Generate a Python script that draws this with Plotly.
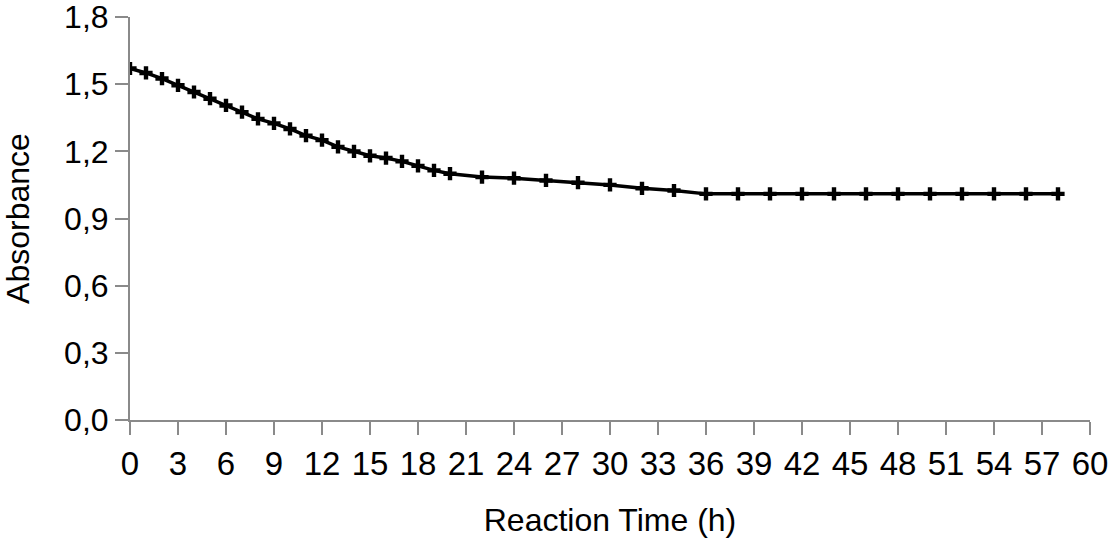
import plotly.graph_objects as go

# reaction time (h) and absorbance
time_h = list(range(0, 21)) + list(range(22, 60, 2))
absorbance = [
    1.57, 1.55, 1.525, 1.495, 1.465, 1.435, 1.405, 1.375, 1.345, 1.325,
    1.30, 1.27, 1.25, 1.22, 1.20, 1.18, 1.17, 1.155, 1.135, 1.115, 1.10,
    1.085, 1.08, 1.07, 1.06, 1.05, 1.035, 1.025,
    1.01, 1.01, 1.01, 1.01, 1.01, 1.01, 1.01, 1.01, 1.01, 1.01, 1.01, 1.01,
]
x_ticks = list(range(0, 61, 3))
y_ticks = [0.0, 0.3, 0.6, 0.9, 1.2, 1.5, 1.8]

FONT = "Liberation Sans, Arial, sans-serif"
AXIS_GREY = "#8a8a8a"

fig = go.Figure()
fig.add_trace(go.Scatter(
    x=time_h, y=absorbance, mode="lines+markers",
    line=dict(color="black", width=3.5),
    marker=dict(symbol="cross", size=11, color="black"),
    showlegend=False,
))

fig.update_xaxes(
    range=[0, 60], tickvals=x_ticks, automargin=False, ticklabeloverflow="allow",
    showline=True, linecolor=AXIS_GREY, linewidth=2,
    ticks="outside", ticklen=13, tickwidth=2, tickcolor=AXIS_GREY,
    showgrid=False, zeroline=False,
    tickfont=dict(size=33, color="black", family=FONT),
    title=dict(text="Reaction Time (h)", font=dict(size=32, color="black", family=FONT),
               standoff=28),
)
fig.update_yaxes(
    range=[0, 1.8], tickvals=y_ticks, tickformat=".1f", automargin=False,
    ticklabeloverflow="allow",
    showline=True, linecolor=AXIS_GREY, linewidth=2,
    ticks="outside", ticklen=13, tickwidth=2, tickcolor=AXIS_GREY,
    showgrid=False, zeroline=False,
    tickfont=dict(size=32, color="black", family=FONT),
    title=dict(text="Absorbance", font=dict(size=32, color="black", family=FONT),
               standoff=42),
)
fig.update_layout(
    width=1108, height=538,
    margin=dict(l=130, r=18, t=17, b=118),
    paper_bgcolor="white", plot_bgcolor="white",
    separators=", ",
    font=dict(family=FONT, color="black"),
)

# page body has an 8px default margin; drop it so the chart sits at 0,0
fig.write_html("out.html", config={"displayModeBar": False},
               post_script="document.body.style.margin='0';")
